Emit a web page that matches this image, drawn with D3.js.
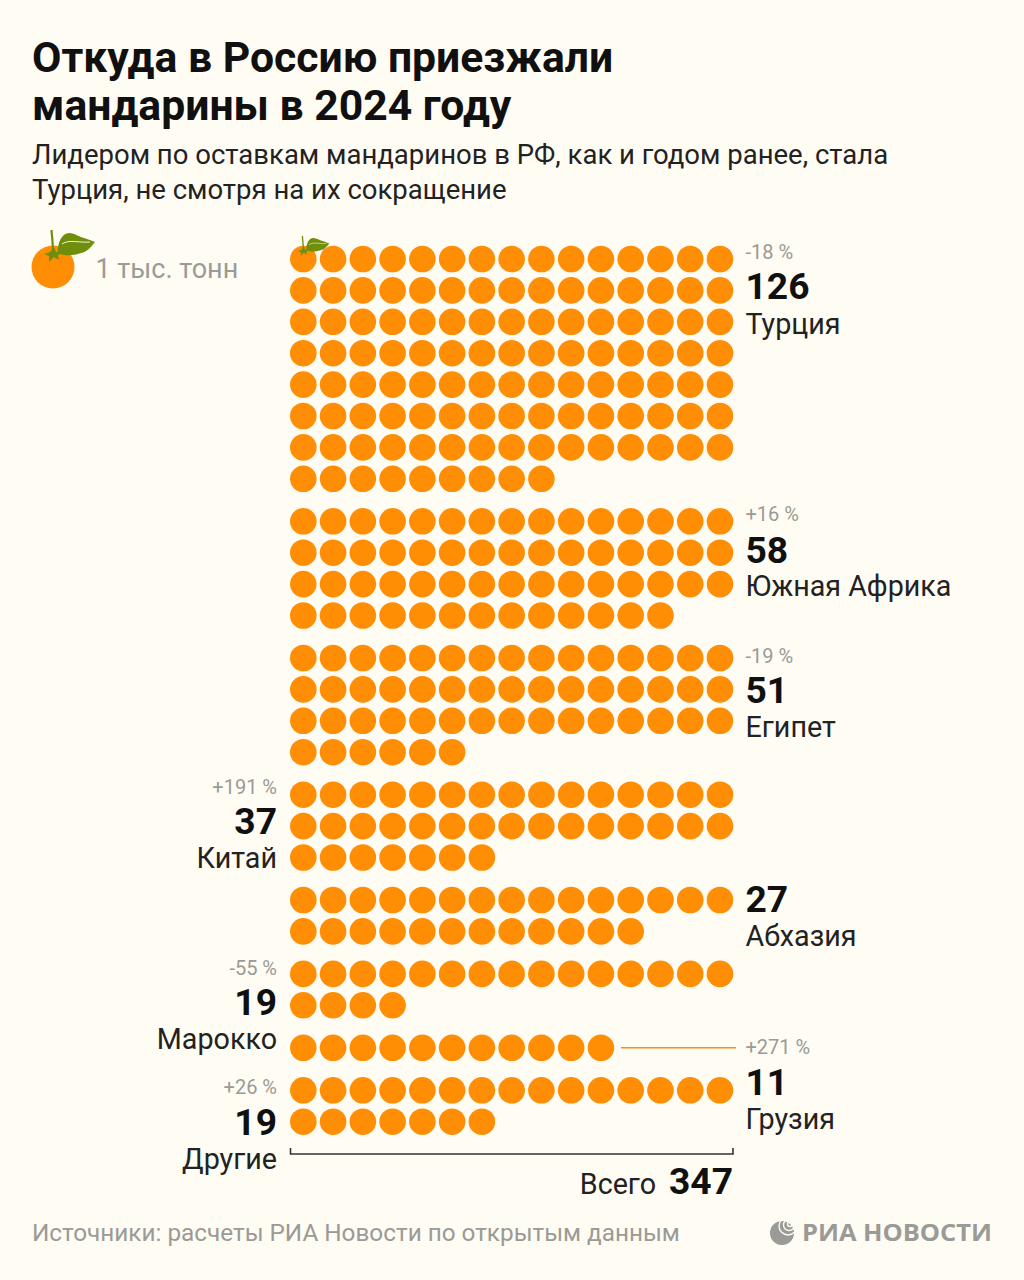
<!DOCTYPE html>
<html><head><meta charset="utf-8">
<script src="https://cdn.jsdelivr.net/npm/d3@7/dist/d3.min.js"></script>
<style>html,body{margin:0;padding:0;background:#fffcf4}svg{display:block}text{font-family:Roboto,sans-serif}</style>
</head><body><svg id="c" width="1024" height="1280"></svg>
<script>
const countries=["Турция","Южная Африка","Египет","Китай","Абхазия","Марокко","Грузия","Другие"];
const values=[126,58,51,37,27,19,11,19];
const changes=["-18 %","+16 %","-19 %","+191 %","","-55 %","+271 %","+26 %"];
const drawnDots=[114,58,51,37,27,19,11,22];
const total=347;
const perRow=15;
const titleLines=["Откуда в Россию приезжали","мандарины в 2024 году"];
const subLines=["Лидером по оставкам мандаринов в РФ, как и годом ранее, стала","Турция, не смотря на их сокращение"];

const svg=d3.select("#c");
const orange="#ff8e04",ink="#101010",grey="#9a9a96",leaf="#6f8f0c";
const pctSize=20,valSize=37.2,nameSize=28.7;
svg.append("rect").attr("width",1024).attr("height",1280).attr("fill","#fffcf4");
const T=(x,y,s,size,fill,weight,anchor)=>svg.append("text").attr("x",x).attr("y",y).text(s)
  .attr("font-size",size).attr("fill",fill).attr("font-weight",weight||400).attr("text-anchor",anchor||"start");

titleLines.forEach((s,i)=>T(32,71.5+i*48,s,42.7,ink,700));
subLines.forEach((s,i)=>T(32,164+i*34.5,s,27.5,"#222",400));

// grid scales
const x=d3.scaleLinear().domain([0,perRow-1]).range([303.3,720]);
const rowStep=31.4, groupGap=11.1;
let rows=0; const dots=[]; const firstRow=[];
drawnDots.forEach((n,g)=>{
  firstRow.push(rows);
  for(let i=0;i<n;i++) dots.push({g,col:i%perRow,row:rows+Math.floor(i/perRow)});
  rows+=Math.ceil(n/perRow);
});
const y=d3.scaleLinear().domain([0,1]).range([259,259+rowStep]);
const yPos=d=>y(d.row)+d.g*groupGap;
svg.append("g").selectAll("circle").data(dots).join("circle")
  .attr("cx",d=>x(d.col)).attr("cy",yPos).attr("r",13.3).attr("fill",orange);

// fruit decoration (drawn relative to the centre of a fruit of radius 21.5)
function fruitTop(cx,cy,s){
  const g=svg.append("g").attr("transform",`translate(${cx},${cy}) scale(${s})`);
  g.append("path").attr("d","M0,-16 C0,-22 -1,-30 -1.5,-37").attr("stroke",leaf).attr("stroke-width",2.2).attr("fill","none");
  g.append("path").attr("d","M5,-14 C4,-24 9,-34 16,-34 C22,-34 26,-30 31,-29 C35,-28 39,-26 42,-25 C38,-20 34,-15 28,-14 C20,-11 10,-11 5,-14Z").attr("fill",leaf);
  g.append("path").attr("d","M9,-23 C16,-28 26,-24 37,-25").attr("stroke","#fffcf4").attr("stroke-width",.9).attr("fill","none");
  g.append("path").attr("d","M1,-20 L3,-15 L9,-16 L5,-11 L6,-7 L1,-10 L-4,-5 L-4,-11 L-9,-13 L-3,-15Z").attr("fill",leaf);
}
fruitTop(x(0),259,.62);
svg.append("circle").attr("cx",53).attr("cy",267).attr("r",21.5).attr("fill",orange);
fruitTop(53,267,1);
T(95.5,278,"1 тыс. тонн",27,grey,400);

// labels
const rowY=g=>y(firstRow[g])+g*groupGap;
const right=745.5,left=277;
function block(g,xp,anchor,dp,dv,dn){
  const t=rowY(g);
  if(changes[g]) T(xp,t+dp,changes[g],pctSize,grey,400,anchor);
  T(xp,t+dv,values[g],valSize,ink,700,anchor);
  T(xp,t+dn,countries[g],nameSize,"#222",400,anchor);
}
block(0,right,"start",0,40,75);
block(1,right,"start",0,42,75);
block(2,right,"start",5,45,79);
block(3,left,"end",-1,39,73);
block(4,right,"start",0,12,46);
block(5,left,"end",1,41,75);
block(6,right,"start",6,47,81);
block(7,left,"end",4,45,79);
{const t=rowY(6);
 svg.append("line").attr("x1",621).attr("x2",736).attr("y1",t).attr("y2",t).attr("stroke",orange).attr("stroke-width",1.4);}

// bracket
svg.append("path").attr("d","M290.5,1148V1154H733V1148").attr("fill","none").attr("stroke","#333").attr("stroke-width",1.6);
T(656,1194,"Всего",nameSize,"#222",400,"end");
T(733,1194,total,valSize,ink,700,"end");

// footer
T(32,1241,"Источники: расчеты РИА Новости по открытым данным",24.3,grey);
const logo=svg.append("g");
logo.append("circle").attr("cx",782).attr("cy",1233).attr("r",12).attr("fill",grey);
[[788,1226,9],[789,1225,5.5],[790,1224,2.5]].forEach(([cx,cy,r])=>logo.append("circle").attr("cx",cx).attr("cy",cy).attr("r",r).attr("fill","none").attr("stroke","#fffcf4").attr("stroke-width",1.4));
logo.append("text").attr("x",802).attr("y",1241).text("РИА НОВОСТИ").attr("font-size",23).attr("font-weight",700).attr("fill",grey)
  .attr("textLength",190).attr("lengthAdjust","spacingAndGlyphs").style("font-family","'Open Sans',sans-serif");
</script></body></html>
